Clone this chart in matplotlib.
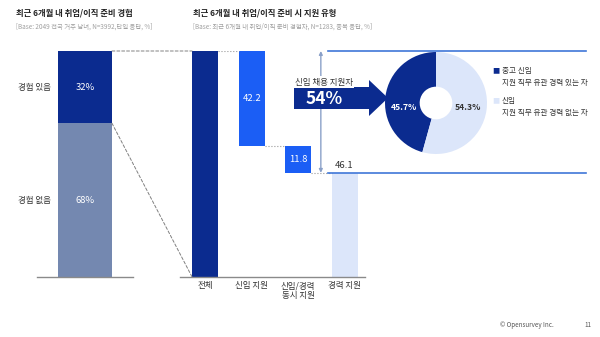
import numpy as np
import matplotlib.pyplot as plt
from matplotlib.patches import ConnectionPatch, FancyArrow

plt.rcParams['font.family'] = ['Noto Sans CJK KR', 'DejaVu Sans']

# left panel: experience share
exp_labels = ['경험 있음', '경험 없음']
exp_values = [32, 68]

# right panel: application type (waterfall)
apply_labels = ['전체', '신입 지원', '신입/경력\n동시 지원', '경력 지원']
total_value = 100
newcomer_only = 42.2
both_types = 11.8
career_only = 46.1

# donut: newcomer applicants split
donut_values = [45.7, 54.3]
donut_titles = ['중고 신입', '신입']
donut_desc = ['지원 직무 유관 경력 있는 자', '지원 직무 유관 경력 없는 자']

NAVY = '#0b2b8f'
GRAYBLUE = '#7488b0'
BRIGHT = '#1b5ef5'
LIGHT = '#dce6fa'
LINEBLUE = '#3f77d8'
GRID = '#9a9a9a'
TXT = '#333333'

W, H = 600, 337
fig = plt.figure(figsize=(W / 100, H / 100), dpi=100)


def px_axes(x0, y0, x1, y1, **kw):
    return fig.add_axes([x0 / W, 1 - y1 / H, (x1 - x0) / W, (y1 - y0) / H], **kw)


def style_base(ax):
    for s in ['top', 'right', 'left']:
        ax.spines[s].set_visible(False)
    ax.spines['bottom'].set_color('#8a8a8a')
    ax.spines['bottom'].set_linewidth(1)
    ax.set_yticks([])
    ax.set_ylim(0, 100)


# ---- left stacked bar ----
ax_l = px_axes(37, 51, 133, 277)
style_base(ax_l)
ax_l.set_xlim(-0.889, 0.889)
ax_l.set_xticks([])
ax_l.bar(0, exp_values[1], width=1, color=GRAYBLUE)
ax_l.bar(0, exp_values[0], bottom=exp_values[1], width=1, color=NAVY)
centers = [exp_values[1] + exp_values[0] / 2, exp_values[1] / 2]
for lab, v, c in zip(exp_labels, exp_values, centers):
    ax_l.text(0, c, f'{v}%', color='white', ha='center', va='center', fontsize=6.8)
    ax_l.text(-0.63, c, lab, color=TXT, ha='right', va='center', fontsize=6.1)

# ---- right waterfall ----
ax_r = px_axes(180, 51, 365, 277)
style_base(ax_r)
ax_r.set_xlim(-0.54, 3.44)
bw = 0.56
x = np.arange(4)
bottoms = [0, total_value - newcomer_only, total_value - newcomer_only - both_types, 0]
heights = [total_value, newcomer_only, both_types, career_only]
colors = [NAVY, BRIGHT, BRIGHT, LIGHT]
ax_r.bar(x, heights, bottom=bottoms, width=bw, color=colors, zorder=2)
ax_r.set_xticks(x)
ax_r.set_xticklabels(apply_labels, fontsize=6.1, color=TXT, linespacing=1.15)
ax_r.tick_params(axis='x', length=0, pad=3)

for i in (1, 2):
    ax_r.text(x[i], bottoms[i] + heights[i] / 2, f'{heights[i]}', color='white',
              ha='center', va='center', fontsize=6.8)
ax_r.text(x[3], career_only + 1.3, f'{career_only}', color=TXT,
          ha='center', va='bottom', fontsize=6.8)

# dotted connectors between waterfall steps
tops = [b + h for b, h in zip(bottoms, heights)]
ax_r.plot([x[0] + bw / 2, x[1] - bw / 2], [tops[0]] * 2, ls=':', color=GRID, lw=0.8)
ax_r.plot([x[1] + bw / 2, x[2] - bw / 2], [bottoms[1]] * 2, ls=':', color=GRID, lw=0.8)
ax_r.plot([x[2] + bw / 2, x[3] - bw / 2], [bottoms[2]] * 2, ls=':', color=GRID, lw=0.8)

# blue guide lines spanning to the donut
ax_r.plot([2.65, 8.2], [total_value] * 2, color=LINEBLUE, lw=1.2, clip_on=False)
ax_r.plot([2.65, 8.2], [career_only] * 2, color=LINEBLUE, lw=1.2, clip_on=False)

# double arrow for the newcomer share
ax_r.annotate('', xy=(2.49, total_value), xytext=(2.49, career_only),
              arrowprops=dict(arrowstyle='<|-|>', color='#8aa0c8', lw=1,
                              mutation_scale=5, shrinkA=0, shrinkB=0),
              annotation_clip=False)

# dashed lines from left bar to the total bar
for (yl, yr) in [(100, total_value), (exp_values[1], 0)]:
    con = ConnectionPatch(xyA=(0.5, yl), coordsA=ax_l.transData,
                          xyB=(-bw / 2, yr), coordsB=ax_r.transData,
                          ls=(0, (3, 2)), color='#808080', lw=0.7)
    fig.add_artist(con)

# ---- donut ----
ax_d = px_axes(385, 52, 487, 154)
ax_d.pie(donut_values, colors=[NAVY, LIGHT], startangle=90, counterclock=True,
         radius=1, wedgeprops=dict(width=0.68, edgecolor='none'))
ax_d.set_xlim(-1, 1)
ax_d.set_ylim(-1, 1)
ax_d.set_aspect('equal')
ax_d.axis('off')
ax_d.text(-0.63, -0.08, f'{donut_values[0]}%', color='white', fontweight='bold',
          ha='center', va='center', fontsize=6.2)
ax_d.text(0.63, -0.08, f'{donut_values[1]}%', color=TXT, fontweight='bold',
          ha='center', va='center', fontsize=6.2)

# ---- overlay for titles, arrow and legend ----
ov = fig.add_axes([0, 0, 1, 1], zorder=5)
ov.set_xlim(0, W)
ov.set_ylim(H, 0)
ov.axis('off')

ov.text(16, 13, '최근 6개월 내 취업/이직 준비 경험', fontsize=6.0, fontweight='bold',
        color='#222222', va='center')
ov.text(16, 27, '[Base: 2049 전국 거주 남녀, N=3992,단일 응답, %]', fontsize=4.6,
        color='#a0a0a0', va='center')
ov.text(193, 13, '최근 6개월 내 취업/이직 준비 시 지원 유형', fontsize=6.0,
        fontweight='bold', color='#222222', va='center')
ov.text(193, 27, '[Base: 최근 6개월 내 취업/이직 준비 경험자, N=1283, 중복 응답, %]',
        fontsize=4.6, color='#a0a0a0', va='center')

ov.text(324, 82, '신입 채용 지원자', fontsize=6.1, color=TXT, ha='center',
        va='center', bbox=dict(facecolor='white', edgecolor='none', pad=0.8))
ov.add_patch(FancyArrow(294, 98, 94, 0, width=22, head_width=36, head_length=19,
                        length_includes_head=True, color=NAVY, lw=0))
newcomer_share = round(newcomer_only + both_types)
ov.text(324, 99, f'{newcomer_share}%', fontsize=12.5, fontweight='bold', color='white',
        ha='center', va='center')

for i, (t, d, c) in enumerate(zip(donut_titles, donut_desc, [NAVY, LIGHT])):
    y0 = 71 + i * 30
    ov.text(492, y0, '■', fontsize=5.2, color=c, ha='left', va='center')
    ov.text(502, y0, t, fontsize=5.5, color=TXT, ha='left', va='center')
    ov.text(502, y0 + 12, d, fontsize=5.5, color=TXT, ha='left', va='center')

ov.text(554, 325, '© Opensurvey Inc.', fontsize=4.5, color='#555555', ha='right', va='center')
ov.text(588, 325, '11', fontsize=4.5, color='#555555', ha='center', va='center')

fig.savefig('out.png', dpi=100)
